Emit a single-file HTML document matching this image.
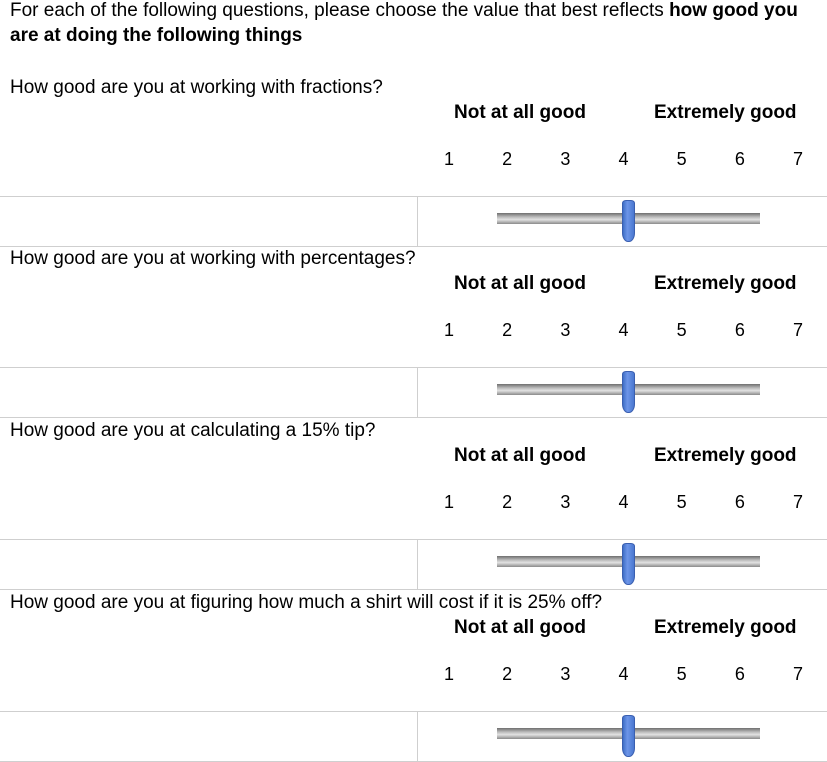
<!DOCTYPE html>
<html><head><meta charset="utf-8">
<style>
body{margin:0;width:827px;height:760px;background:#fff;position:relative;overflow:hidden;font-family:"Liberation Sans",Arial,sans-serif;color:#000}
.a{position:absolute;white-space:nowrap;font-size:19px;line-height:20px}
.b{font-weight:bold}
.hl{position:absolute;left:0;width:827px;height:1px;background:#cfcfcf}
.vl{position:absolute;left:417px;width:1px;background:#cfcfcf}
.track{position:absolute;height:11px;background:linear-gradient(#6e6e6e,#b9b9b9 35%,#e2e2e2 60%,#8a8a8a);}
.thumb{position:absolute;width:13px;height:42px;background:linear-gradient(90deg,#3f6fc6,#6d95e8 40%,#4a78d0);border-radius:4px 4px 6px 6px / 3px 3px 9px 9px;border:1px solid #3a5fb0;box-sizing:border-box}
</style></head><body>
<div class="a" style="left:10px;top:1px">For each of the following questions, please choose the value that best reflects <b>how good you</b></div>
<div class="a b" style="left:10px;top:26px">are at doing the following things</div>
<script>
const questions=["How good are you at working with fractions?","How good are you at working with percentages?","How good are you at calculating a 15% tip?","How good are you at figuring how much a shirt will cost if it is 25% off?"];
const sectionTops=[78,249,421,593];
const scaleLabels=["1","2","3","4","5","6","7"];
const values=[4,4,4,4];
const minV=1,maxV=7;
const trackL=497,trackR=760;
function xOf(v){return 449+(v-minV)*(798-449)/(maxV-minV);}
function add(html){document.body.insertAdjacentHTML('beforeend',html);return document.body.lastElementChild;}
questions.forEach((q,i)=>{
  const t=sectionTops[i];
  let e=add(`<div class="a" style="left:10px;top:${t}px">${q}</div>`);
  
  
  e=add(`<div class="a b" style="left:454px;top:${t+25}px">Not at all good</div>`);
  
  
  e=add(`<div class="a b" style="left:654px;top:${t+25}px">Extremely good</div>`);
  
  
  scaleLabels.forEach((s,k)=>{
    const x=xOf(+s);
    e=add(`<div class="a" style="left:${x-5}px;top:${t+71}px;font-size:18px">${s}</div>`);
    
    
  });
  e=add(`<div class="hl" style="top:${t+118}px"></div>`);
  
  
  e=add(`<div class="vl" style="top:${t+118}px;height:50px"></div>`);
  
  
  e=add(`<div class="hl" style="top:${t+168}px"></div>`);
  
  
  e=add(`<div class="track" style="left:${trackL}px;width:${trackR-trackL}px;top:${t+135}px"></div>`);
  
  
  e=add(`<div class="thumb" style="left:${xOf(values[i])-1.5}px;top:${t+122}px"></div>`);
  
  
});
</script>
</body></html>
